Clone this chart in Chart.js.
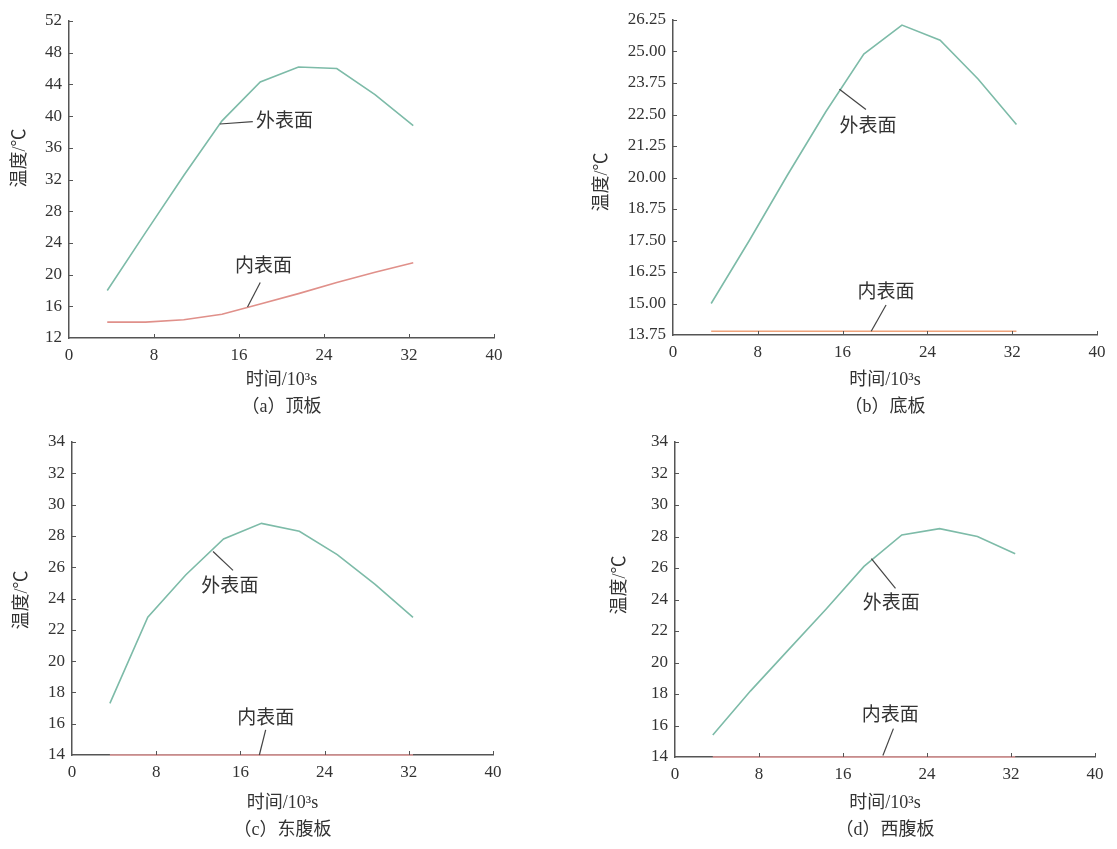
<!DOCTYPE html>
<html>
<head>
<meta charset="utf-8">
<script src="https://cdn.jsdelivr.net/npm/chart.js@4.4.0/dist/chart.umd.min.js"></script>
<style>
body{margin:0;background:#fff;}
#wrap{position:relative;width:1117px;height:849px;overflow:hidden;}
canvas{position:absolute;}
</style>
</head>
<body>
<div id="wrap">
<canvas id="chartA" width="558" height="420" style="left:0px;top:0px"></canvas>
<canvas id="chartB" width="559" height="420" style="left:558px;top:0px"></canvas>
<canvas id="chartC" width="558" height="429" style="left:0px;top:420px"></canvas>
<canvas id="chartD" width="559" height="429" style="left:558px;top:420px"></canvas>
</div>
<script>
// time, 10^3 s (hourly output)
const time=[3.6,7.2,10.8,14.4,18,21.6,25.2,28.8,32.4];
const xTicks=[0,8,16,24,32,40];

// (a) 顶板
const topOuter=[18.0,25.3,32.5,39.4,44.3,46.2,46.0,42.7,38.8];
const topInner=[14.0,14.0,14.3,15.0,16.3,17.6,19.0,20.3,21.5];
const topTicks=[12,16,20,24,28,32,36,40,44,48,52];

// (b) 底板
const bottomOuter=[15.0,17.5,20.1,22.6,24.9,26.05,25.45,23.9,22.1];
const bottomInner=[13.9,13.9,13.9,13.9,13.9,13.9,13.9,13.9,13.9];
const bottomTicks=[13.75,15,16.25,17.5,18.75,20,21.25,22.5,23.75,25,26.25];

// (c) 东腹板
const eastOuter=[17.3,22.8,25.5,27.8,28.8,28.3,26.8,24.9,22.8];
const eastInner=[14.0,14.0,14.0,14.0,14.0,14.0,14.0,14.0,14.0];
const eastTicks=[14,16,18,20,22,24,26,28,30,32,34];

// (d) 西腹板
const westOuter=[15.4,18.2,20.8,23.4,26.1,28.1,28.5,28.0,26.9];
const westInner=[14.0,14.0,14.0,14.0,14.0,14.0,14.0,14.0,14.0];
const westTicks=[14,16,18,20,22,24,26,28,30,32,34];

const FONT='"Liberation Serif","Noto Sans CJK SC"';
const AXIS='#555';
const TEXT='#333';

function toPoints(ys){
    return time.map(function(t,i){ return {x:t,y:ys[i]}; });
}

const panelDecor={
    id:'panelDecor',
    afterDraw:function(chart,args,o){
        const ctx=chart.ctx;
        const xs=chart.scales.x, ys=chart.scales.y, area=chart.chartArea;
        ctx.save();
        ctx.strokeStyle=AXIS;
        ctx.lineWidth=1;
        ctx.beginPath();
        xs.ticks.forEach(function(t){
            if(t.value===xs.min) return;
            const px=Math.round(xs.getPixelForValue(t.value))+0.5;
            ctx.moveTo(px,area.bottom);
            ctx.lineTo(px,area.bottom-4);
        });
        ys.ticks.forEach(function(t){
            if(t.value===ys.min) return;
            const py=Math.round(ys.getPixelForValue(t.value))+0.5;
            ctx.moveTo(area.left,py);
            ctx.lineTo(area.left+4,py);
        });
        ctx.stroke();

        // leaders + notes
        ctx.strokeStyle='#444';
        ctx.lineWidth=1.2;
        ctx.fillStyle=TEXT;
        ctx.font='19px '+FONT;
        ctx.textBaseline='middle';
        o.notes.forEach(function(n){
            ctx.beginPath();
            ctx.moveTo(xs.getPixelForValue(n.from[0]),ys.getPixelForValue(n.from[1]));
            ctx.lineTo(xs.getPixelForValue(n.to[0]),ys.getPixelForValue(n.to[1]));
            ctx.stroke();
            ctx.textAlign=n.align;
            ctx.fillText(n.text,xs.getPixelForValue(n.at[0]),ys.getPixelForValue(n.at[1]));
        });

        // titles
        ctx.font='18px '+FONT;
        ctx.textAlign='center';
        const cx=(area.left+area.right)/2;
        ctx.fillText('时间/10³s',cx,o.xTitleY);
        ctx.fillText(o.caption,cx,o.captionY);
        ctx.save();
        ctx.translate(o.yTitle[0],o.yTitle[1]);
        ctx.rotate(-Math.PI/2);
        ctx.fillText('温度/℃',0,0);
        ctx.restore();
        ctx.restore();
    }
};

function makePanel(id,p){
    const ctx=document.getElementById(id).getContext('2d');
    return new Chart(ctx,{
        type:'line',
        data:{
            datasets:[
                {
                    data:toPoints(p.outer),
                    label:'外表面',
                    borderColor:'#7dbba8',
                    borderWidth:1.6,
                    pointRadius:0,
                    fill:false,
                    tension:0,
                    clip:false
                },
                {
                    data:toPoints(p.inner),
                    label:'内表面',
                    borderColor:p.innerColor,
                    borderWidth:1.6,
                    pointRadius:0,
                    fill:false,
                    tension:0,
                    clip:false
                }
            ]
        },
        options:{
            responsive:false,
            animation:false,
            events:[],
            layout:{padding:{left:0,top:p.top,right:p.right,bottom:0}},
            plugins:{
                legend:{display:false},
                tooltip:{enabled:false},
                panelDecor:{
                    notes:p.notes,
                    caption:p.caption,
                    xTitleY:p.xTitleY,
                    captionY:p.captionY,
                    yTitle:p.yTitle
                }
            },
            scales:{
                x:{
                    type:'linear',
                    min:0,
                    max:40,
                    afterBuildTicks:function(s){ s.ticks=xTicks.map(function(v){ return {value:v}; }); },
                    afterFit:function(s){ s.height=p.xh; },
                    grid:{display:false,drawTicks:false},
                    border:{display:true,color:AXIS,width:1.5},
                    ticks:{color:TEXT,padding:7,font:{family:FONT,size:17},maxRotation:0}
                },
                y:{
                    type:'linear',
                    min:p.ticks[0],
                    max:p.ticks[p.ticks.length-1],
                    afterBuildTicks:function(s){ s.ticks=p.ticks.map(function(v){ return {value:v}; }); },
                    afterFit:function(s){ s.width=p.yw; },
                    grid:{display:false,drawTicks:false},
                    border:{display:true,color:AXIS,width:1.5},
                    ticks:{
                        color:TEXT,
                        padding:7,
                        font:{family:FONT,size:17},
                        callback:function(v){ return p.decimals ? Number(v).toFixed(p.decimals) : String(v); }
                    }
                }
            }
        },
        plugins:[panelDecor]
    });
}

document.addEventListener('DOMContentLoaded',function()
{
    makePanel('chartA',{
        outer:topOuter, inner:topInner, ticks:topTicks, innerColor:'#e0908a',
        yw:69, top:21, right:64, xh:82,
        caption:'（a）顶板', xTitleY:380, captionY:407, yTitle:[20,158],
        notes:[
            {text:'外表面',at:[17.6,39.3],align:'left',from:[14.2,39.0],to:[17.3,39.3]},
            {text:'内表面',at:[18.3,20.9],align:'center',from:[18.0,19.0],to:[16.8,15.9]}
        ]
    });
    makePanel('chartB',{
        outer:bottomOuter, inner:bottomInner, ticks:bottomTicks, innerColor:'#eea27a', decimals:2,
        yw:115, top:20, right:20, xh:85,
        caption:'（b）底板', xTitleY:380, captionY:407, yTitle:[44,182],
        notes:[
            {text:'外表面',at:[18.4,22.0],align:'center',from:[15.7,23.5],to:[18.2,22.7]},
            {text:'内表面',at:[20.1,15.4],align:'center',from:[20.1,14.94],to:[18.7,13.9]}
        ]
    });
    makePanel('chartC',{
        outer:eastOuter, inner:eastInner, ticks:eastTicks, innerColor:'#e8a0a0',
        yw:72, top:22, right:65, xh:94,
        caption:'（c）东腹板', xTitleY:383, captionY:410, yTitle:[22,180],
        notes:[
            {text:'外表面',at:[15.0,24.75],align:'center',from:[13.4,27.0],to:[15.3,25.8]},
            {text:'内表面',at:[18.4,16.3],align:'center',from:[18.4,15.6],to:[17.8,14.0]}
        ]
    });
    makePanel('chartD',{
        outer:westOuter, inner:westInner, ticks:westTicks, innerColor:'#e8a0a0',
        yw:117, top:22, right:22, xh:92,
        caption:'（d）西腹板', xTitleY:383, captionY:410, yTitle:[62,165],
        notes:[
            {text:'外表面',at:[20.6,23.7],align:'center',from:[18.7,26.6],to:[21.0,24.7]},
            {text:'内表面',at:[20.5,16.6],align:'center',from:[20.8,15.8],to:[19.8,14.1]}
        ]
    });
});
</script>
</body>
</html>
